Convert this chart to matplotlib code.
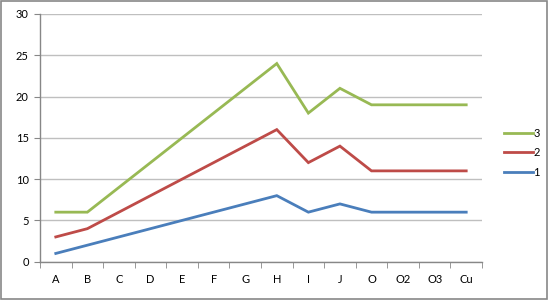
import matplotlib
matplotlib.use("Agg")
import matplotlib.pyplot as plt
from matplotlib.patches import Rectangle
import numpy as np

categories = ["A", "B", "C", "D", "E", "F", "G", "H", "I", "J", "O", "O2", "O3", "Cu"]
series1 = [1, 2, 3, 4, 5, 6, 7, 8, 6, 7, 6, 6, 6, 6]
series2 = [3, 4, 6, 8, 10, 12, 14, 16, 12, 14, 11, 11, 11, 11]
series3 = [6, 6, 9, 12, 15, 18, 21, 24, 18, 21, 19, 19, 19, 19]
series_names = ["1", "2", "3"]
colors = ["#4A7EBB", "#BE4B48", "#98B954"]
y_ticks = [0, 5, 10, 15, 20, 25, 30]

plt.rcParams['font.family'] = ['Lato', 'DejaVu Sans']

fig = plt.figure(figsize=(5.49, 3.0), dpi=100)
ax = fig.add_axes([40/549, 1 - 261.7/300, (482-40)/549, (261.7-14)/300])

x = np.arange(len(categories))
lines = []
for vals, c, n in zip([series1, series2, series3], colors, series_names):
    ln, = ax.plot(x, vals, color=c, lw=2.0, label=n, solid_joinstyle='miter')
    lines.append(ln)

ax.set_xlim(-0.5, len(categories) - 0.5)
ax.set_ylim(0, 30)
ax.set_yticks(y_ticks)
ax.yaxis.grid(True, color="#BFBFBF", lw=1)
ax.set_axisbelow(True)
ax.set_xticks(x)
ax.set_xticklabels(categories)
ax.set_xticks(np.arange(-0.5, len(categories), 1), minor=True)
ax.tick_params(axis='x', which='major', length=0, pad=9, labelsize=8, colors='#000000')
ax.tick_params(axis='x', which='minor', length=4, direction='out', color='#878787')
ax.tick_params(axis='y', length=4, direction='out', color='#878787', labelsize=8, pad=4)
for s in ['top', 'right']:
    ax.spines[s].set_visible(False)
for s in ['left', 'bottom']:
    ax.spines[s].set_color('#878787')
    ax.spines[s].set_linewidth(1)

leg = fig.legend(handles=lines[::-1], labels=series_names[::-1], loc='upper left',
                 bbox_to_anchor=(494/549, 1 - 118/300), frameon=False, fontsize=8,
                 handlelength=2.6, handletextpad=0.05, labelspacing=0.75)

fig.patches.append(Rectangle((0.002, 0.003), 0.995, 0.993, transform=fig.transFigure,
                             fill=False, edgecolor='#888888', lw=1.2))

fig.savefig("out.png", dpi=100)
